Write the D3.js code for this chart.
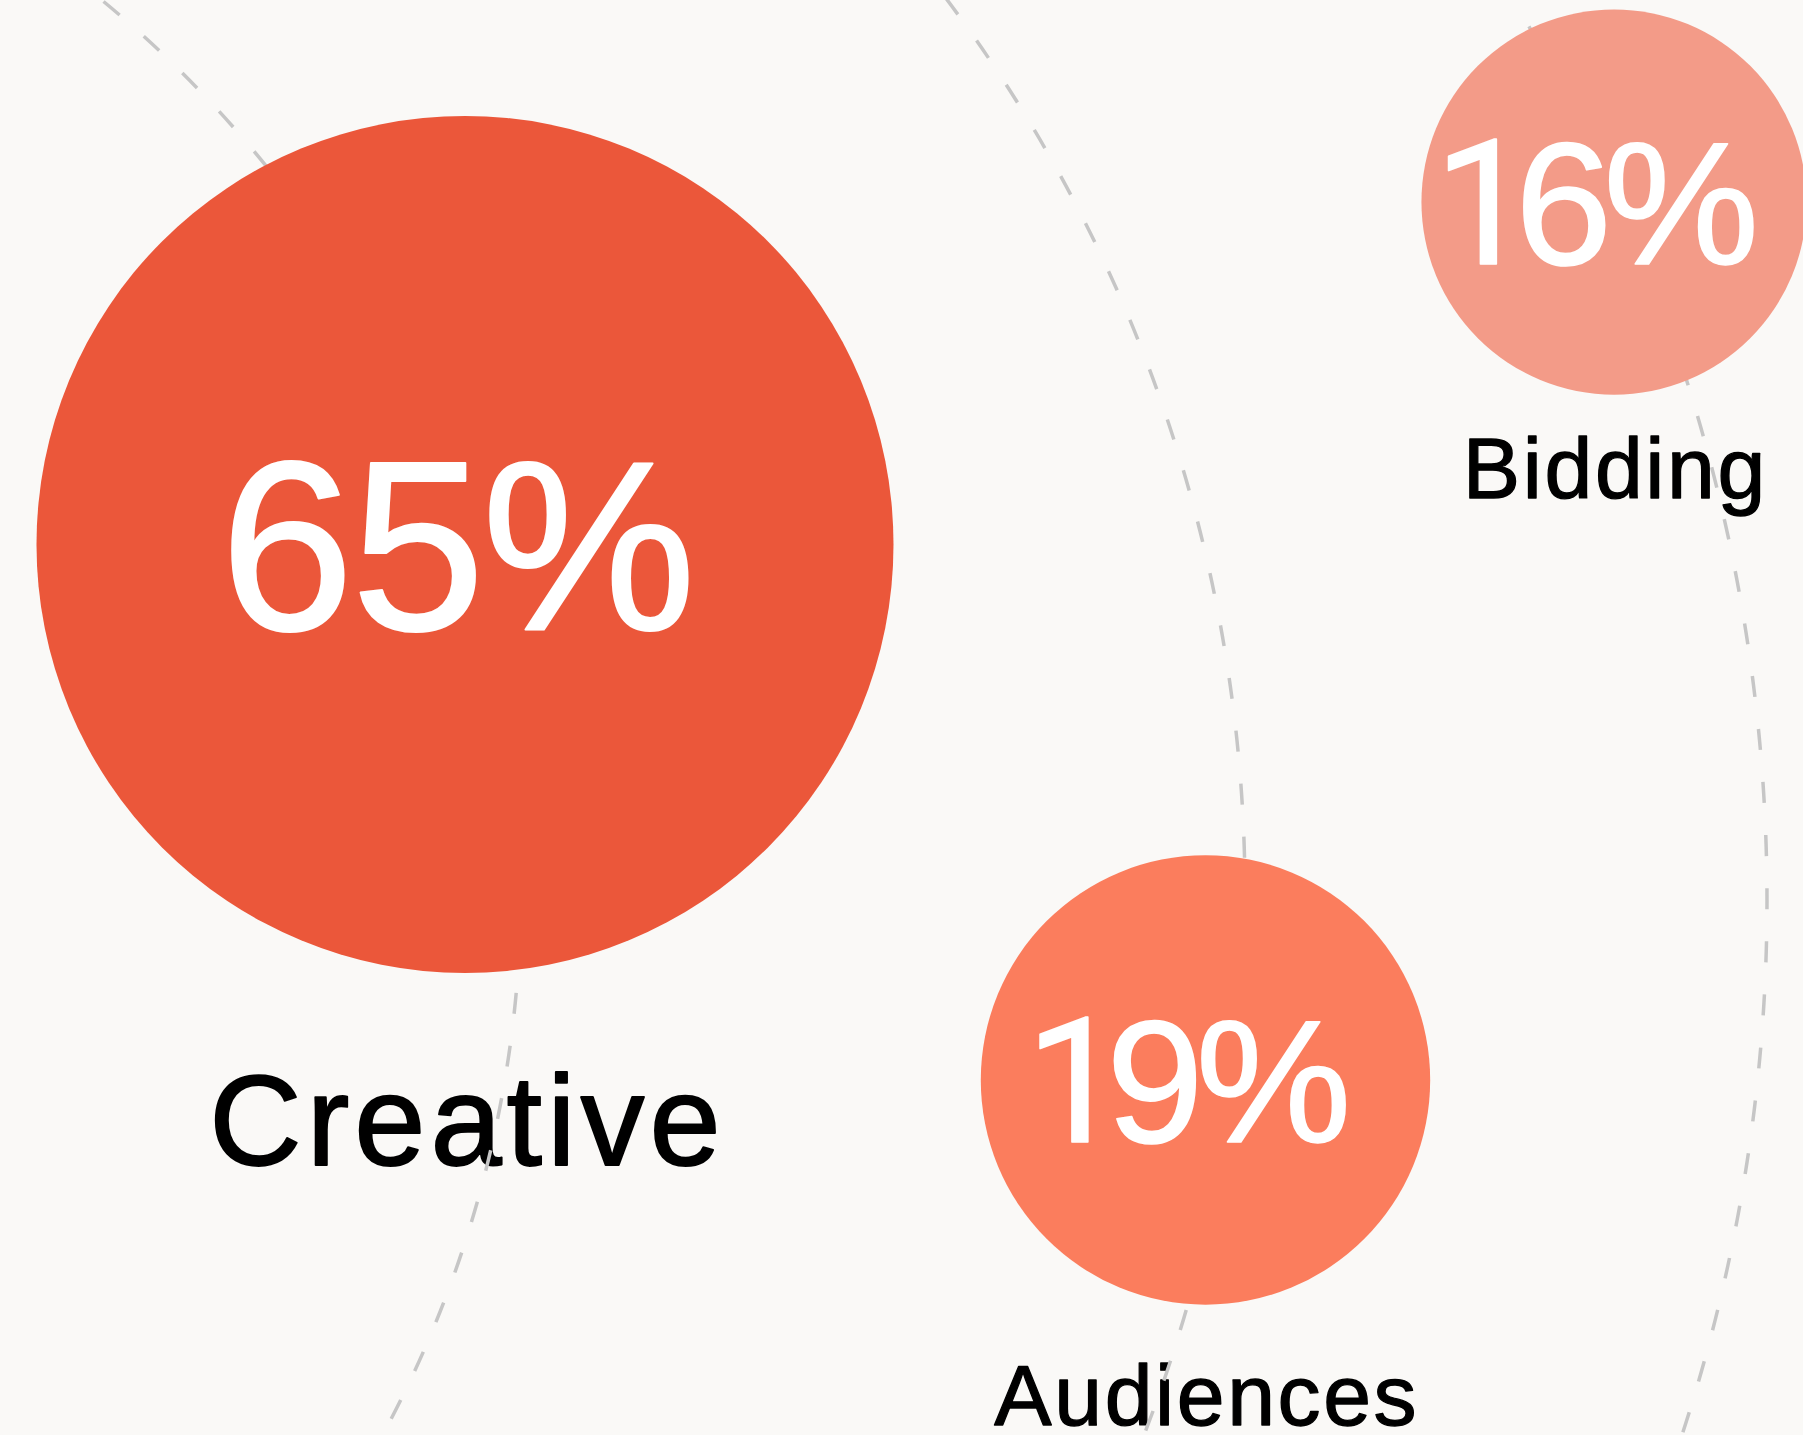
<!DOCTYPE html>
<html>
<head>
<meta charset="utf-8">
<script src="https://cdn.jsdelivr.net/npm/d3@7"></script>
<style>
  html, body { margin: 0; padding: 0; background: #FAF9F7; }
  svg { display: block; }
  text { font-family: "Liberation Sans", Arial, Helvetica, sans-serif; }
  tspan.one { font-family: Roboto, "Liberation Sans", Arial, sans-serif; font-weight: 400; }
</style>
</head>
<body>
<div id="chart"></div>
<script>
// ---------------- data ----------------
const categories  = ["Creative", "Audiences", "Bidding"];
const values      = [65, 19, 16];
const valueLabels = ["65%", "19%", "16%"];

// ---------------- layout / style ----------------
const W = 1803, H = 1435;
const colors       = ["#EB573A", "#FB7D5D", "#F39B88"];
const posX         = [0.2579, 0.6686, 0.8952];   // fraction of width
const posY         = [0.3794, 0.7526, 0.1408];   // fraction of height
const radii        = [428.5, 224.7, 192.6];
const numberSizes  = [241, 175, 175];
const numberStart  = [-245, -180, -180];         // text start relative to centre
const numberKerns  = [[0, -0.013, -0.013], [0, -0.10, -0.045], [0, -0.10, -0.05]]; // em, per glyph
const labelSizes   = [128, 86, 86];
const labelSpace   = [0.039, 0.03, 0.03];        // letter-spacing, em
const labelGaps    = [192, 120, 103];            // baseline below circle bottom
const orbits = [
  { cx: -629, cy: 888,   r: 1150,   anchor: 115.4 },
  { cx: -249, cy: 895,   r: 1494,   anchor: -48 },
  { cx: 43.5, cy: 900.5, r: 1723.5, anchor: -2 }
];
const DASH = 21, GAP = 32.2;

// ---------------- scales ----------------
const x = d3.scaleLinear().domain([0, 1]).range([0, W]);
const y = d3.scaleLinear().domain([0, 1]).range([0, H]);
const pairs = d3.sort(d3.zip(values, radii), d => d[0]);
const rScale = d3.scaleLinear().domain(pairs.map(d => d[0])).range(pairs.map(d => d[1]));

const data = categories.map((c, i) => ({
  name: c, value: values[i], label: valueLabels[i], color: colors[i],
  cx: x(posX[i]), cy: y(posY[i]), r: rScale(values[i]),
  nSize: numberSizes[i], nStart: numberStart[i], nKerns: numberKerns[i],
  lSize: labelSizes[i], lSpace: labelSpace[i], lGap: labelGaps[i]
}));

const svg = d3.select("#chart").append("svg")
  .attr("width", W).attr("height", H)
  .attr("viewBox", `0 0 ${W} ${H}`);

svg.append("rect").attr("width", W).attr("height", H).attr("fill", "#FAF9F7");

// labels (below the dashed orbits)
svg.append("g").selectAll("text").data(data).join("text")
  .attr("x", d => d.cx + d.lSpace * d.lSize / 2)
  .attr("y", d => d.cy + d.r + d.lGap)
  .attr("text-anchor", "middle")
  .attr("font-size", d => d.lSize)
  .attr("letter-spacing", d => (d.lSpace * d.lSize) + "px")
  .attr("fill", "#000")
  .attr("stroke", "#000")
  .attr("stroke-width", d => d.lSize > 100 ? 1.8 : 1.3)
  .attr("stroke-linejoin", "round")
  .text(d => d.name);

// dashed orbits
const a1 = -1.4, a2 = 1.4;
svg.append("g").selectAll("path").data(orbits).join("path")
  .attr("d", o => {
    const p = d3.path();
    p.moveTo(o.cx + o.r * Math.cos(a1), o.cy + o.r * Math.sin(a1));
    p.arc(o.cx, o.cy, o.r, a1, a2, false);
    return p.toString();
  })
  .attr("fill", "none")
  .attr("stroke", "#C6C6C6")
  .attr("stroke-width", 3.5)
  .attr("stroke-dasharray", `${DASH} ${GAP}`)
  .attr("stroke-dashoffset", o => DASH / 2 - (o.anchor - o.r * a1));

// bubbles
svg.append("g").selectAll("circle").data(data).join("circle")
  .attr("cx", d => d.cx)
  .attr("cy", d => d.cy)
  .attr("r", d => d.r)
  .attr("fill", d => d.color);

// value numbers
const nums = svg.append("g").selectAll("text").data(data).join("text")
  .attr("x", d => d.cx + d.nStart)
  .attr("y", d => d.cy + 0.353 * d.nSize)
  .attr("text-anchor", "start")
  .attr("font-size", d => d.nSize)
  .attr("fill", "#FFFFFF")
  .attr("stroke", "#FFFFFF")
  .attr("stroke-width", d => d.nSize > 200 ? 2 : 1.6)
  .attr("stroke-linejoin", "round");

nums.each(function(d) {
  const t = d3.select(this);
  d.label.split("").forEach((ch, i) => {
    t.append("tspan")
      .attr("class", ch === "1" ? "one" : null)
      .attr("dx", (d.nKerns[i] || 0) * d.nSize)
      .text(ch);
  });
});
</script>
</body>
</html>
